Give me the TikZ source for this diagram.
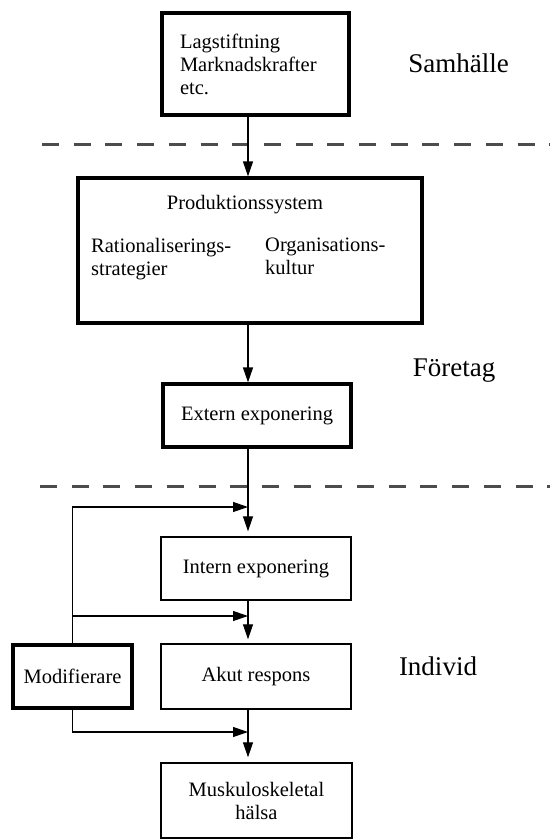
\documentclass[tikz,border=0pt]{standalone}
\usepackage{fontspec}
\setmainfont{Liberation Serif}
\usetikzlibrary{arrows.meta}

\begin{document}
\begin{tikzpicture}[x=1pt,y=-1pt,>={Triangle[length=15pt,width=10pt]},
  box/.style={draw,line width=1.4pt,inner sep=0pt,align=center,font=\fontsize{20.5}{23}\selectfont},
  thickbox/.style={box,line width=3.2pt},
  txt/.style={inner sep=0pt,align=left,font=\fontsize{20.5}{23}\selectfont},
  level/.style={inner sep=0pt,font=\fontsize{27}{30}\selectfont},
  flow/.style={->,line width=1.2pt},
  border/.style={line width=3pt,black!70,dash pattern=on 17pt off 14.7pt}]
\useasboundingbox (0,0) rectangle (550,840);
\coordinate (spine) at (248,0);
% level labels
\node[level,anchor=base] (samh) at (458.5,73) {Samhälle};
\node[level,anchor=base] (foretag) at (454,376) {Företag};
\node[level,anchor=base] (individ) at (438,675) {Individ};
% level borders
\coordinate (b1a) at (42,144);
\coordinate (b1b) at (550,144);
\coordinate (b2a) at (40,486);
\coordinate (b2b) at (550,486);
\draw[border] (b1a) -- (b1b);
\draw[border] (b2a) -- (b2b);
% boxes
\node[thickbox,align=left,text width=151pt,inner xsep=18pt,minimum height=102pt] (lag) at (255.5,64) {Lagstiftning\\Marknadskrafter\\etc.};
\node[thickbox,minimum width=344pt,minimum height=145pt] (prod) at (250,250.5) {};
\node[txt,anchor=base] (prodtitle) at (245,209) {Produktionssystem};
\node[txt,anchor=north west] (ratio) at (91,238) {Rationaliserings-\\strategier};
\node[txt,anchor=north west] (orgkult) at (265,238) {Organisations-\\kultur};
\node[thickbox,minimum width=188pt,minimum height=63pt] (extern) at (257,415.5) {Extern exponering};
\node[box,minimum width=190pt,minimum height=63pt] (intern) at (256,568.5) {Intern exponering};
\node[box,minimum width=190pt,minimum height=65pt] (akut) at (256,676.5) {Akut respons};
\node[box,minimum width=191pt,minimum height=75pt] (musk) at (256.5,800.5) {Muskuloskeletal\\hälsa};
\node[thickbox,minimum width=119pt,minimum height=63pt] (modif) at (72.5,676.5) {Modifierare};
% joints on the spine
\coordinate (j1) at (248,507);
\coordinate (j2) at (248,616);
\coordinate (j3) at (248,732);
% arrows
\draw[flow] (lag.south -| spine) -- (prod.north -| spine);
\draw[flow] (prod.south -| spine) -- (extern.north -| spine);
\draw[flow,shorten >=5pt] (extern.south -| spine) -- (intern.north -| spine);
\draw[flow,shorten >=4pt] (intern.south -| spine) -- (akut.north -| spine);
\draw[flow,shorten >=5pt] (akut.south -| spine) -- (musk.north -| spine);
\draw[flow] (modif.north) |- (j1);
\draw[flow] (modif.north |- j2) -- (j2);
\draw[flow] (modif.south) |- (j3);
\end{tikzpicture}
\end{document}
